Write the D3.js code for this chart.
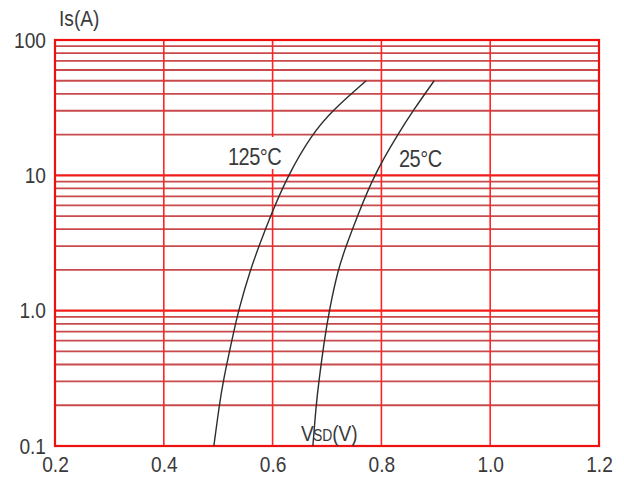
<!DOCTYPE html>
<html>
<head>
<meta charset="utf-8">
<script src="https://cdn.jsdelivr.net/npm/d3@7"></script>
<style>
  html, body { margin: 0; padding: 0; background: #fff; }
  svg { display: block; }
  text { font-family: "Liberation Sans", Arial, sans-serif; fill: #3a3a3a; }
</style>
</head>
<body>
<svg id="chart" width="624" height="480"></svg>
<script>
// Source current vs. source-drain voltage, two junction temperatures
const currentIs = [0.1, 0.2, 0.3, 0.6, 1.0, 2, 3, 5, 10, 20, 30, 50];
const vsd125 = [0.492, 0.502, 0.509, 0.525, 0.537, 0.559, 0.575, 0.596, 0.628, 0.672, 0.709, 0.772];
const vsd25  = [0.674, 0.680, 0.685, 0.695, 0.704, 0.720, 0.735, 0.756, 0.786, 0.830, 0.858, 0.897];

const xTicks = [0.2, 0.4, 0.6, 0.8, 1.0, 1.2];
const xTickLabels = ["0.2", "0.4", "0.6", "0.8", "1.0", "1.2"];
const yTicks = [0.1, 1, 10, 100];
const yTickLabels = ["0.1", "1.0", "10", "100"];

const curveLabels = ["125°C", "25°C"];

const svg = d3.select("#chart");
const margin = { left: 55, top: 40, right: 25, bottom: 34 };
const W = 624, H = 480;
const innerW = W - margin.left - margin.right;
const innerH = H - margin.top - margin.bottom;

const x = d3.scaleLinear().domain([0.2, 1.2]).range([margin.left, margin.left + innerW]);
const y = d3.scaleLog().domain([0.1, 100]).range([margin.top + innerH, margin.top]);

const SX = 0.87; // narrow glyph width used for all labels

// horizontal grid: every 1..9 step of each decade
const isMajor = v => Math.abs(Math.log10(v) - Math.round(Math.log10(v))) < 1e-9;
const grid = svg.append("g");
grid.selectAll("line.h")
  .data(y.ticks())
  .join("line")
  .attr("x1", x(0.2)).attr("x2", x(1.2))
  .attr("y1", d => y(d)).attr("y2", d => y(d))
  .attr("stroke", d => isMajor(d) ? "#f01c1c" : "#c84a4c")
  .attr("stroke-width", d => isMajor(d) ? 2.2 : 1.8);

grid.selectAll("line.v")
  .data(xTicks)
  .join("line")
  .attr("x1", d => x(d)).attr("x2", d => x(d))
  .attr("y1", y(100)).attr("y2", y(0.1))
  .attr("stroke", "#ff2424")
  .attr("stroke-width", 1.6);

svg.append("rect")
  .attr("x", x(0.2)).attr("y", y(100))
  .attr("width", x(1.2) - x(0.2)).attr("height", y(0.1) - y(100))
  .attr("fill", "none").attr("stroke", "#f01010").attr("stroke-width", 2.2);

// axes (labels only)
const yAxis = d3.axisLeft(y).tickValues(yTicks)
  .tickFormat((d, i) => yTickLabels[i]).tickSize(0).tickPadding(0);
const gy = svg.append("g").attr("transform", `translate(${x(0.2)},0)`).call(yAxis);
gy.select(".domain").remove();
gy.selectAll("text")
  .attr("x", -9 / SX).attr("dy", null).attr("y", 7)
  .attr("transform", `scale(${SX},1)`)
  .style("font-size", "22px").style("font-family", "'Liberation Sans', Arial, sans-serif")
  .attr("fill", "#3a3a3a");

const xAxis = d3.axisBottom(x).tickValues(xTicks)
  .tickFormat((d, i) => xTickLabels[i]).tickSize(0).tickPadding(0);
const gx = svg.append("g").attr("transform", `translate(0,${y(0.1)})`).call(xAxis);
gx.select(".domain").remove();
gx.selectAll("text")
  .attr("dy", null).attr("y", 26)
  .attr("transform", `scale(${SX},1)`)
  .style("font-size", "22px").style("font-family", "'Liberation Sans', Arial, sans-serif")
  .attr("fill", "#3a3a3a");

// axis titles
svg.append("text")
  .attr("transform", `translate(59,26) scale(${SX},1)`)
  .style("font-size", "22px")
  .text("Is(A)");

const vsdTitle = svg.append("text")
  .attr("transform", `translate(301,441) scale(${SX},1)`)
  .style("font-size", "22px");
vsdTitle.append("tspan").text("V");
vsdTitle.append("tspan").style("font-size", "16px").attr("dx", -1).text("SD");
vsdTitle.append("tspan").text("(V)");

// curves (B-spline through the read-off points)
const line = d3.line()
  .x(d => x(d[0]))
  .y(d => y(d[1]))
  .curve(d3.curveBasis);

const series = [vsd125, vsd25].map(v => v.map((vv, i) => [vv, currentIs[i]]));

// label backing for the 125°C tag
svg.append("rect")
  .attr("x", 225).attr("y", 137).attr("width", 58).attr("height", 32)
  .attr("fill", "#fff");

svg.selectAll("path.curve")
  .data(series)
  .join("path")
  .attr("class", "curve")
  .attr("d", line)
  .attr("fill", "none")
  .attr("stroke", "#2e2e2e")
  .attr("stroke-width", 1.4);

// temperature tags
const tagPos = [[228, 165], [399, 167]];
curveLabels.forEach((t, i) => {
  svg.append("text")
    .attr("transform", `translate(${tagPos[i][0]},${tagPos[i][1]}) scale(${SX},1)`)
    .style("font-size", "23px")
    .style("letter-spacing", "-0.6px")
    .text(t);
});
</script>
</body>
</html>
